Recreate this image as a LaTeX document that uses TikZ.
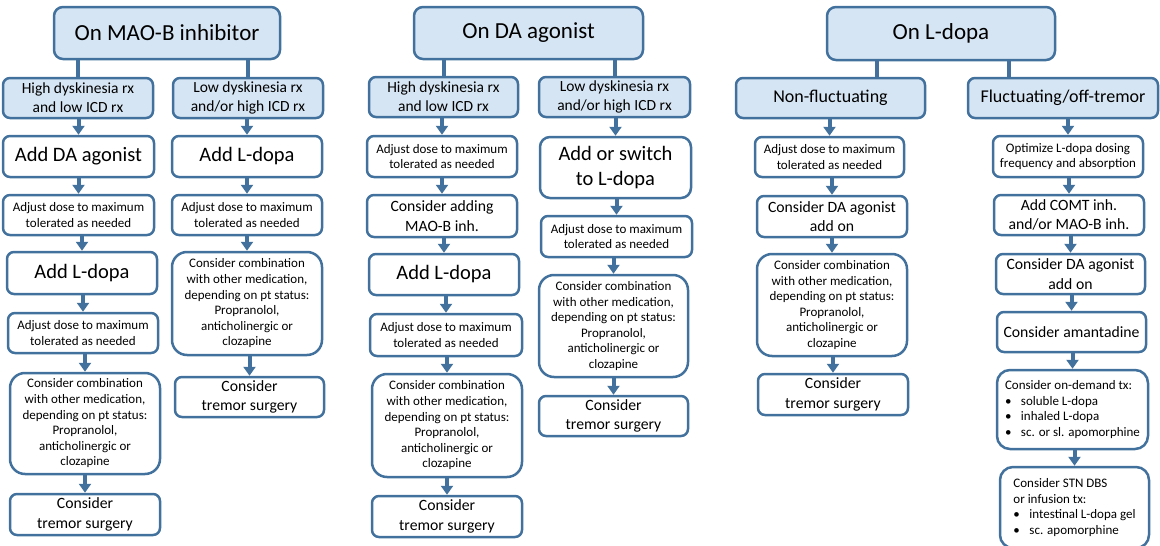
\documentclass[tikz,border=0pt]{standalone}
\usepackage{fontspec}
\setmainfont{Carlito}
\usetikzlibrary{arrows.meta}

\definecolor{pdblue}{HTML}{41719C}
\definecolor{pdfill}{HTML}{D6E5F3}
\newcommand\pdbullet{\makebox[16pt][l]{\textbullet}}

\tikzset{
  stepbox/.style={draw=pdblue, line width=2.5pt, rounded corners=7pt, align=center,
    inner sep=2pt, minimum width=150pt, minimum height=40pt, text=black},
  headbox/.style={stepbox, fill=pdfill, rounded corners=9pt, minimum height=52pt,
    font=\fontsize{23}{28}\selectfont},
  branchbox/.style={stepbox, fill=pdfill, font=\fontsize{15.5}{19}\selectfont},
  smallbox/.style={stepbox, font=\fontsize{13}{15.6}\selectfont},
  midbox/.style={stepbox, font=\fontsize{15.7}{19.5}\selectfont},
  bigbox/.style={stepbox, font=\fontsize{20.5}{25}\selectfont},
  combobox/.style={smallbox, rounded corners=15pt, minimum height=101pt},
  link/.style={draw=pdblue, line width=4pt},
  arr/.style={link, -{Triangle[width=12pt,length=9pt]}},
}

\begin{document}
\begin{tikzpicture}[x=1pt,y=-1pt]
  \useasboundingbox (0,0) rectangle (1160,546);

  % on MAO-B inhibitor
  \node[headbox, minimum width=226pt] (t1) at (167,33) {On MAO-B inhibitor};
  \node[branchbox] (s1) at (78,98) {High dyskinesia rx\\and low ICD rx};
  \node[bigbox, minimum width=151pt, minimum height=41pt] (a1) at (78.5,156.5) {Add DA agonist};
  \node[smallbox, minimum width=151pt] (a2) at (78.5,215) {Adjust dose to maximum\\tolerated as needed};
  \node[bigbox, minimum height=42pt] (a3) at (82,273) {Add L-dopa};
  \node[smallbox] (a4) at (83,333) {Adjust dose to maximum\\tolerated as needed};
  \node[combobox] (a5) at (85,423.5) {Consider combination\\with other medication,\\depending on pt status:\\Propranolol,\\anticholinergic or\\clozapine};
  \node[midbox, minimum height=41pt] (a6) at (85,514.5) {Consider\\tremor surgery};

  \node[branchbox] (s2) at (248,98) {Low dyskinesia rx\\and/or high ICD rx};
  \node[bigbox, minimum height=41pt] (b1) at (247,156.5) {Add L-dopa};
  \node[smallbox] (b2) at (247,215) {Adjust dose to maximum\\tolerated as needed};
  \node[combobox, minimum height=103pt] (b3) at (247,303.5) {Consider combination\\with other medication,\\depending on pt status:\\Propranolol,\\anticholinergic or\\clozapine};
  \node[midbox, minimum width=149pt] (b4) at (249.5,397) {Consider\\tremor surgery};

  % on DA agonist
  \node[headbox, minimum width=229pt] (t2) at (528.5,33) {On DA agonist};
  \node[branchbox, minimum width=149pt] (s3) at (443.5,97) {High dyskinesia rx\\and low ICD rx};
  \node[smallbox, minimum height=41pt] (c1) at (442,156.5) {Adjust dose to maximum\\tolerated as needed};
  \node[midbox, minimum height=42pt] (c2) at (442,216) {Consider adding\\MAO-B inh.};
  \node[bigbox, minimum height=41pt] (c3) at (444,274.5) {Add L-dopa};
  \node[smallbox, minimum width=152pt, minimum height=42pt] (c4) at (446,335) {Adjust dose to maximum\\tolerated as needed};
  \node[combobox, minimum height=103pt] (c5) at (447,425.5) {Consider combination\\with other medication,\\depending on pt status:\\Propranolol,\\anticholinergic or\\clozapine};
  \node[midbox, minimum height=41pt] (c6) at (447,516.5) {Consider\\tremor surgery};

  \node[branchbox, minimum width=151pt] (s4) at (614.5,97) {Low dyskinesia rx\\and/or high ICD rx};
  \node[bigbox, minimum width=151pt, minimum height=61pt, rounded corners=10pt] (d1) at (615.5,167.5) {Add or switch\\to L-dopa};
  \node[smallbox, minimum width=151pt, minimum height=41pt] (d2) at (616.5,236.5) {Adjust dose to maximum\\tolerated as needed};
  \node[combobox, minimum width=149pt, minimum height=102pt] (d3) at (613.5,326) {Consider combination\\with other medication,\\depending on pt status:\\Propranolol,\\anticholinergic or\\clozapine};
  \node[midbox, minimum width=149pt] (d4) at (613.5,416) {Consider\\tremor surgery};

  % on L-dopa
  \node[headbox, minimum width=228pt, minimum height=53pt] (t3) at (941,33.5) {On L-dopa};
  \node[branchbox, minimum width=189pt, font=\fontsize{18}{22}\selectfont] (s5) at (830.5,98) {Non-fluctuating};
  \node[smallbox, minimum width=149pt] (e1) at (829.5,157) {Adjust dose to maximum\\tolerated as needed};
  \node[midbox, minimum height=41pt] (e2) at (832,216.5) {Consider DA agonist\\add on};
  \node[combobox, minimum height=102pt] (e3) at (832,305) {Consider combination\\with other medication,\\depending on pt status:\\Propranolol,\\anticholinergic or\\clozapine};
  \node[midbox, minimum height=41pt] (e4) at (833,394.5) {Consider\\tremor surgery};

  \node[branchbox, minimum width=190pt, font=\fontsize{18}{22}\selectfont] (s6) at (1063,98) {Fluctuating/off-tremor};
  \node[smallbox, minimum height=41pt] (f1) at (1068,156.5) {Optimize L-dopa dosing\\frequency and absorption};
  \node[midbox] (f2) at (1069,215) {Add COMT inh.\\and/or MAO-B inh.};
  \node[midbox, minimum width=149pt] (f3) at (1070.5,274) {Consider DA agonist\\add on};
  \node[midbox, minimum width=149pt] (f4) at (1071.5,332) {Consider amantadine};
  \node[smallbox, minimum width=151pt, minimum height=79pt, rounded corners=13pt, align=left] (f5) at (1072.5,409.5)
    {Consider on-demand tx:\\\pdbullet soluble L-dopa\\\pdbullet inhaled L-dopa\\\pdbullet sc. or sl. apomorphine};
  \node[smallbox, minimum width=149pt, minimum height=81pt, rounded corners=13pt, align=left] (f6) at (1074.5,507.5)
    {Consider STN DBS\\or infusion tx:\\\pdbullet intestinal L-dopa gel\\\pdbullet sc. apomorphine};

  % connectors
  \foreach \s/\t in {s1/t1, s2/t1, s3/t2, s4/t2}
    \draw[link] (\s.north) -- (\s.north |- \t.south);
  \draw[link] ([xshift=-64pt]t3.south) -- ([xshift=-64pt]t3.south |- s5.north);
  \draw[link] ([xshift=68pt]t3.south) -- ([xshift=68pt]t3.south |- s6.north);

  \foreach \u/\v in {s1/a1, a1/a2, a2/a3, a3/a4, a4/a5, a5/a6,
                     s2/b1, b1/b2, b2/b3, b3/b4,
                     s3/c1, c1/c2, c2/c3, c3/c4, c4/c5, c5/c6,
                     s4/d1, d1/d2, d2/d3, d3/d4,
                     s5/e1, e1/e2, e2/e3, e3/e4,
                     s6/f1, f1/f2, f2/f3, f3/f4, f4/f5, f5/f6}
    \draw[arr] (\v |- \u.south) -- (\v);
\end{tikzpicture}
\end{document}
